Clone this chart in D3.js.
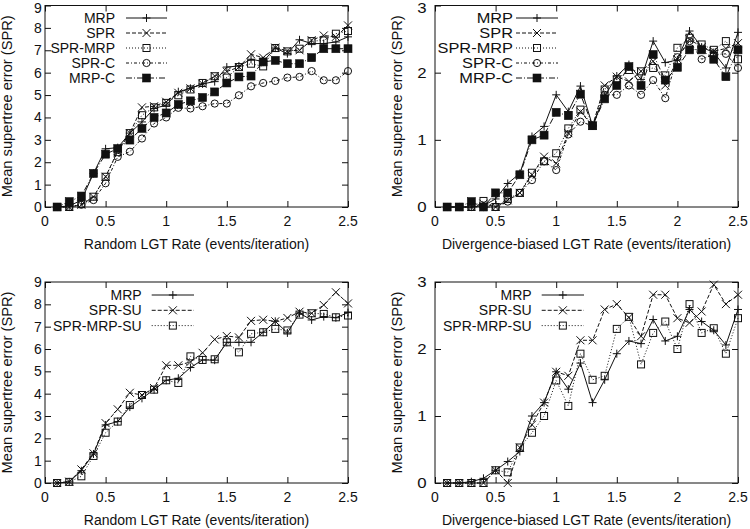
<!DOCTYPE html>
<html>
<head>
<meta charset="utf-8">
<script src="https://cdn.jsdelivr.net/npm/d3@7/dist/d3.min.js"></script>
<style>
  html, body { margin: 0; padding: 0; background: #fff; }
  text { font-family: "Liberation Sans", Arial, Helvetica, sans-serif; fill: #111; }
</style>
</head>
<body>
<svg id="chart" width="750" height="529"></svg>
<script>
// ---------- DATA ----------
const rates = [0.1,0.2,0.3,0.4,0.5,0.6,0.7,0.8,0.9,1.0,1.1,1.2,1.3,1.4,1.5,1.6,1.7,1.8,1.9,2.0,2.1,2.2,2.3,2.4,2.5];
const xTicks = [0, 0.5, 1, 1.5, 2, 2.5];
const xTickLabels = ["0", "0.5", "1", "1.5", "2", "2.5"];
const yTicksRandom = [0,1,2,3,4,5,6,7,8,9];
const yTicksDiv = [0,1,2,3];

// Top-left: Random LGT
const tlMRP    = [0,0.05,0.3,1.5,2.6,2.65,3.3,3.8,4.4,4.55,5.15,5.3,5.5,5.6,6.25,6.3,6.6,6.5,7.1,6.85,7.47,7.3,7.3,7.37,7.6];
const tlSPR    = [0,0,0.1,0.45,1.35,2.5,3.3,4.45,4.5,4.7,5.1,5.3,5.5,5.85,6.05,6.25,6.82,6.67,7.12,6.97,7.0,7.45,7.66,7.6,8.11];
const tlSPRMRP = [0,0,0.13,0.46,1.35,2.45,3.3,4.1,4.45,4.65,4.99,5.25,5.54,5.84,5.78,6.25,6.4,6.28,7.1,6.95,7.07,7.41,7.44,7.74,7.86];
const tlSPRC   = [0,0,0.1,0.31,1.06,2.24,2.47,3.06,3.73,4.0,4.43,4.4,4.5,4.62,4.62,4.99,5.39,5.54,5.63,5.78,5.81,6.07,5.66,5.66,6.07];
const tlMRPC   = [0,0.24,0.49,1.5,2.36,2.61,2.99,3.51,4.0,4.2,4.58,4.74,4.89,5.14,5.54,5.81,5.85,6.48,6.55,6.4,6.4,6.67,7.07,7.07,7.07];

// Top-right: Divergence-biased LGT
const trMRP    = [0,0,0,0.02,0.12,0.35,0.5,1.05,1.2,1.67,1.42,1.8,1.21,1.65,1.95,2.12,1.9,2.47,2.15,2.19,2.62,2.38,2.3,2.07,2.6];
const trSPR    = [0,0,0,0.05,0,0.1,0.21,0.48,0.75,0.65,1.1,1.42,1.21,1.81,1.94,1.87,2.02,2.17,1.81,2.2,2.5,2.38,2.32,2.36,2.44];
const trSPRMRP = [0,0,0,0.09,0,0.12,0.21,0.51,0.68,0.8,1.17,1.45,1.21,1.75,1.9,2.04,2.02,2.07,1.96,2.37,2.52,2.42,2.34,2.47,2.2];
const trSPRC   = [0,0,0,0,0,0.08,0.21,0.4,0.68,0.55,1.08,1.27,1.21,1.67,1.67,1.81,1.67,1.89,1.62,2.23,2.47,2.2,2.27,2.28,2.07];
const trMRPC   = [0,0,0.08,0,0.21,0.21,0.48,1.0,1.07,1.41,1.36,1.68,1.21,1.61,1.81,2.09,1.81,2.27,1.89,2.08,2.34,2.34,2.2,1.94,2.34];

// Bottom-left: Random LGT, SU variants
const blMRP      = [0,0.05,0.55,1.3,2.6,2.75,3.4,3.79,4.18,4.6,4.69,5.17,5.51,5.5,6.3,6.3,6.3,6.75,7.24,6.72,7.6,7.3,7.45,7.4,7.63];
const blSPRSU    = [0,0.06,0.61,1.33,2.68,3.3,4.04,3.94,4.25,5.27,5.27,5.42,5.83,6.43,6.58,6.52,7.26,7.31,7.24,7.39,7.67,7.6,7.97,8.54,8.04];
const blSPRMRPSU = [0,0.05,0.3,1.21,2.25,2.75,3.49,3.94,4.18,4.6,4.48,5.67,5.51,5.54,6.3,5.85,6.68,6.75,6.9,6.83,7.54,7.6,7.57,7.42,7.5];

// Bottom-right: Divergence-biased LGT, SU variants
const brMRP      = [0,0,0.02,0.07,0.19,0.32,0.47,1.0,1.2,1.66,1.4,1.79,1.2,1.54,1.93,2.12,2.08,2.44,2.12,2.19,2.59,2.41,2.28,2.06,2.59];
const brSPRSU    = [0,0,0,0,0.19,0,0.53,0.87,1.2,1.66,1.6,2.13,2.13,2.59,2.67,2.47,2.19,2.81,2.81,2.46,2.39,2.56,2.96,2.67,2.81];
const brSPRMRPSU = [0,0,0,0,0.19,0.16,0.53,0.75,1.0,1.53,1.15,1.93,1.54,1.6,2.3,2.48,1.77,2.24,2.41,2.0,2.67,2.24,2.31,1.93,2.46];

const yTitle = "Mean supertree error (SPR)";
const xTitleRandom = "Random LGT Rate (events/iteration)";
const xTitleDiv = "Divergence-biased LGT Rate (events/iteration)";

// ---------- STYLES ----------
const styles = {
  "MRP":        { dash: null,        marker: "plus" },
  "SPR":        { dash: "4,2",       marker: "cross" },
  "SPR-MRP":    { dash: "1,2",       marker: "square" },
  "SPR-C":      { dash: "3,2,1,2",   marker: "circle" },
  "MRP-C":      { dash: "6,2,1,2",   marker: "fsquare" },
  "SPR-SU":     { dash: "4,2",       marker: "cross" },
  "SPR-MRP-SU": { dash: "1,2",       marker: "square" }
};

const panels = [
  { box: [45, 5.5, 348, 207], yMax: 9, yTicks: yTicksRandom, xTitle: xTitleRandom,
    yTickRight: 41.7, yTickStretch: 1.0, yTitleX: 7,
    legend: { textEnd: 115, x0: 126, x1: 167, y0: 18, dy: 15, stretch: 1.0 },
    series: [["MRP", tlMRP], ["SPR", tlSPR], ["SPR-MRP", tlSPRMRP], ["SPR-C", tlSPRC], ["MRP-C", tlMRPC]] },
  { box: [435, 5.5, 738, 207], yMax: 3, yTicks: yTicksDiv, xTitle: xTitleDiv,
    yTickRight: 426.7, yTickStretch: 1.2, yTitleX: 397,
    legend: { textEnd: 513, x0: 516, x1: 558, y0: 18, dy: 15, stretch: 1.17 },
    series: [["MRP", trMRP], ["SPR", trSPR], ["SPR-MRP", trSPRMRP], ["SPR-C", trSPRC], ["MRP-C", trMRPC]] },
  { box: [45, 282, 348, 483], yMax: 9, yTicks: yTicksRandom, xTitle: xTitleRandom,
    yTickRight: 41.7, yTickStretch: 1.0, yTitleX: 7,
    legend: { textEnd: 141.7, x0: 151.7, x1: 194, y0: 295, dy: 15.3, stretch: 1.0 },
    series: [["MRP", blMRP], ["SPR-SU", blSPRSU], ["SPR-MRP-SU", blSPRMRPSU]] },
  { box: [435, 282, 738, 483], yMax: 3, yTicks: yTicksDiv, xTitle: xTitleDiv,
    yTickRight: 426.7, yTickStretch: 1.2, yTitleX: 397,
    legend: { textEnd: 531.7, x0: 541.7, x1: 584, y0: 295, dy: 15.3, stretch: 1.0 },
    series: [["MRP", brMRP], ["SPR-SU", brSPRSU], ["SPR-MRP-SU", brSPRMRPSU]] }
];

const svg = d3.select("#chart");
const INK = "#111";

function drawMarker(g, type, x, y) {
  const s = 4;
  if (type === "plus") {
    g.append("path").attr("d", `M${x-s},${y}H${x+s}M${x},${y-s}V${y+s}`)
      .attr("stroke", INK).attr("stroke-width", 1).attr("fill", "none");
  } else if (type === "cross") {
    g.append("path").attr("d", `M${x-s},${y-s}L${x+s},${y+s}M${x-s},${y+s}L${x+s},${y-s}`)
      .attr("stroke", INK).attr("stroke-width", 1).attr("fill", "none");
  } else if (type === "square") {
    g.append("rect").attr("x", x-3.5).attr("y", y-3.5).attr("width", 7).attr("height", 7)
      .attr("stroke", INK).attr("stroke-width", 1).attr("fill", "none");
  } else if (type === "circle") {
    g.append("circle").attr("cx", x).attr("cy", y).attr("r", 3.6)
      .attr("stroke", INK).attr("stroke-width", 1).attr("fill", "none");
  } else if (type === "fsquare") {
    g.append("rect").attr("x", x-4).attr("y", y-4).attr("width", 8).attr("height", 8)
      .attr("stroke", INK).attr("stroke-width", 0.6).attr("fill", INK);
  }
}

panels.forEach(p => {
  const [x0, y0, x1, y1] = p.box;
  const xs = d3.scaleLinear().domain([0, 2.5]).range([x0, x1]);
  const ys = d3.scaleLinear().domain([0, p.yMax]).range([y1, y0]);
  const g = svg.append("g");

  // Axes: bottom/left with labels; top/right mirrored ticks only (all inward)
  const tickLen = 6;
  const bottom = d3.axisBottom(xs).tickValues(xTicks).tickSize(-tickLen).tickFormat("");
  const top = d3.axisTop(xs).tickValues(xTicks).tickSize(-tickLen).tickFormat("");
  const left = d3.axisLeft(ys).tickValues(p.yTicks).tickSize(-tickLen).tickFormat("");
  const right = d3.axisRight(ys).tickValues(p.yTicks).tickSize(-tickLen).tickFormat("");
  [[bottom, `translate(0,${y1})`], [top, `translate(0,${y0})`],
   [left, `translate(${x0},0)`], [right, `translate(${x1},0)`]].forEach(([ax, tr]) => {
    const a = g.append("g").attr("transform", tr).call(ax);
    a.select(".domain").remove();
    a.selectAll(".tick line").attr("stroke", INK).attr("stroke-width", 1);
  });

  // Frame
  g.append("rect").attr("x", x0).attr("y", y0).attr("width", x1 - x0).attr("height", y1 - y0)
    .attr("fill", "none").attr("stroke", INK).attr("stroke-width", 1);

  // X tick labels
  xTicks.forEach((t, i) => {
    g.append("text").attr("x", xs(t)).attr("y", y1 + 14.5).attr("dy", "0.35em")
      .attr("text-anchor", "middle").attr("font-size", 14).text(xTickLabels[i]);
  });
  // Y tick labels (keep the topmost label inside the page)
  p.yTicks.forEach(t => {
    const yy = Math.max(ys(t), 8.5);
    g.append("text").attr("transform", `translate(${p.yTickRight},${yy}) scale(${p.yTickStretch},1)`)
      .attr("dy", "0.35em").attr("text-anchor", "end").attr("font-size", 14).text(String(t));
  });

  // Axis titles
  g.append("text").attr("x", (x0 + x1) / 2).attr("y", y1 + 37).attr("dy", "0.35em")
    .attr("text-anchor", "middle").attr("font-size", 14).text(p.xTitle);
  g.append("text").attr("transform", `translate(${p.yTitleX},${(y0 + y1) / 2}) rotate(-90)`)
    .attr("dy", "0.35em").attr("text-anchor", "middle").attr("font-size", 14.7).text(yTitle);

  // Series
  const line = d3.line().x((d, i) => xs(rates[i])).y(d => ys(d));
  p.series.forEach(([name, vals]) => {
    const st = styles[name];
    const sg = g.append("g");
    sg.append("path").datum(vals).attr("d", line)
      .attr("fill", "none").attr("stroke", INK).attr("stroke-width", 1)
      .attr("stroke-dasharray", st.dash);
    vals.forEach((v, i) => drawMarker(sg, st.marker, xs(rates[i]), ys(v)));
  });

  // Legend
  const L = p.legend;
  p.series.forEach(([name], k) => {
    const st = styles[name];
    const yy = L.y0 + k * L.dy;
    g.append("text").attr("transform", `translate(${L.textEnd},${yy}) scale(${L.stretch},1)`)
      .attr("dy", "0.35em").attr("text-anchor", "end").attr("font-size", 14).text(name);
    g.append("line").attr("x1", L.x0).attr("x2", L.x1).attr("y1", yy).attr("y2", yy)
      .attr("stroke", INK).attr("stroke-width", 1).attr("stroke-dasharray", st.dash);
    drawMarker(g, st.marker, (L.x0 + L.x1) / 2, yy);
  });
});
</script>
</body>
</html>
